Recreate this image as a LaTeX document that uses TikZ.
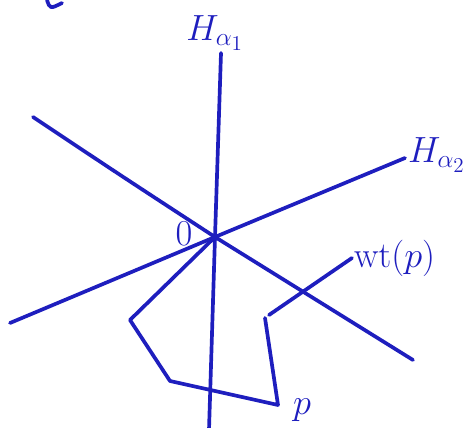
\documentclass[tikz,border=0pt]{standalone}
\usepackage{tikz}
\usetikzlibrary{positioning, calc}
\usepackage{amsmath, amssymb}
\definecolor{ink}{HTML}{1E1EBE}
\tikzset{
  wall/.style={line width=2.1pt, color=ink, line cap=round},
  walk/.style={line width=2.1pt, color=ink, line join=round, line cap=round},
  lbl/.style={font=\huge, text=ink, inner sep=1pt}
}
\begin{document}
\begin{tikzpicture}[x=0.02cm, y=-0.02cm]
  \useasboundingbox (0,0) rectangle (473,428);

  % Origin
  \coordinate (O) at (215,237);
  \fill[ink] (O) circle (4);

  % Walls
  \coordinate (h1top) at (221,53);
  \coordinate (h1bot) at (209,430);
  \coordinate (h2l) at (10,323);
  \coordinate (h2r) at (405,158);
  \coordinate (h3l) at (33,117);
  \coordinate (h3r) at (413,360);
  \draw[wall] (h1top) -- (O) -- (h1bot);
  \draw[wall] (h2l) -- (O) -- (h2r);
  \draw[wall] (h3l) .. controls (120,175) .. (O) -- (h3r);

  % Path
  \coordinate (p1) at (130,320);
  \coordinate (p2) at (170,381);
  \coordinate (p3) at (278,405);
  \coordinate (pend) at (265,318);
  \draw[walk] (O) -- (p1) -- (p2) -- (p3) -- (pend);

  % Labels
  \node[lbl] (ha1) at (215,33) {$H_{\alpha_1}$};
  \node[lbl, anchor=west] (ha2) at (406,155) {$H_{\alpha_2}$};
  \node[lbl] (zero) at (184,234) {$0$};
  \node[lbl, anchor=west] (wt) at (352,258) {$\mathrm{wt}(p)$};
  \node[lbl] (plbl) at (302,410) {$p$};
  \draw[walk] (wt.west) -- ($(pend)+(4,-3)$);

  % fragment of earlier text
  \draw[walk] (47,0) .. controls (50,9) .. (62,3);
\end{tikzpicture}
\end{document}
